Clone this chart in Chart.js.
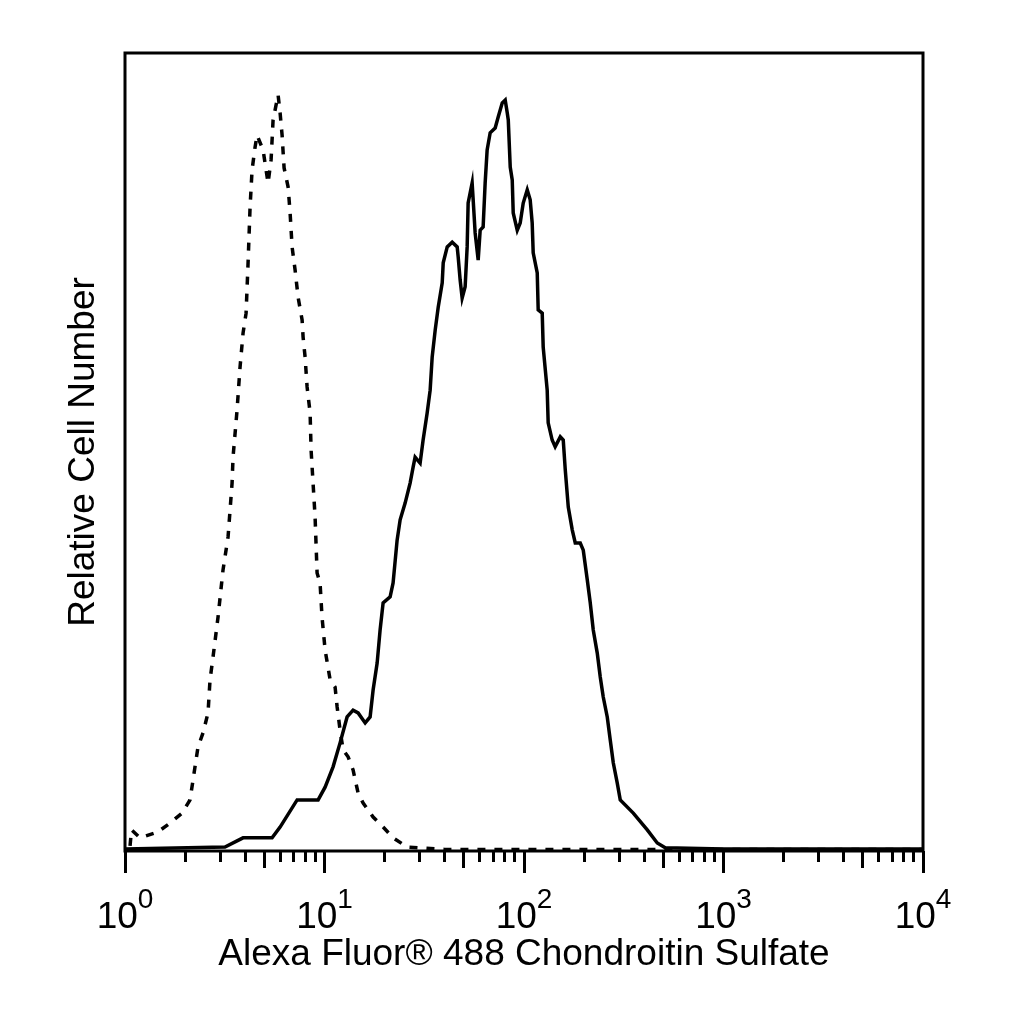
<!DOCTYPE html>
<html>
<head>
<meta charset="utf-8">
<script src="https://cdn.jsdelivr.net/npm/chart.js@4"></script>
<style>
  html, body { margin: 0; padding: 0; background: #fff; }
  #wrap { width: 1024px; height: 1024px; }
</style>
</head>
<body>
<div id="wrap"><canvas id="c" width="1024" height="1024"></canvas></div>
<script>
// ---- Data ----
// Isotype control (dashed) : fluorescence intensity vs relative cell number
const controlX = [1.06, 1.078, 1.19, 1.464, 1.682, 1.932, 2.118, 2.193, 2.323, 2.461, 2.607, 2.668, 2.762, 2.926, 3.099, 3.285, 3.441, 3.48, 3.645, 3.773, 3.906, 4.045, 4.139, 4.236, 4.335, 4.487, 4.592, 4.921, 5.213, 5.398, 5.524, 5.853, 5.99, 6.13, 6.201, 6.273, 6.571, 6.723, 6.88, 7.122, 7.373, 7.722, 7.811, 7.993, 8.18, 8.47, 8.566, 8.97, 9.18, 9.5, 9.72, 10.07, 10.67, 11.3, 11.57, 11.97, 12.4, 13.13, 13.91, 14.74, 15.62, 17.53, 19.67, 22.07, 25.96, 40, 100, 300, 1000, 3000, 10000];
const controlY = [1.3, 5.3, 3.3, 4.8, 7.0, 9.5, 12.8, 17.8, 26.1, 29.6, 34.6, 42.9, 48.6, 58.6, 70.4, 78.7, 92.2, 98.7, 110.5, 121.3, 129.8, 134.8, 147.4, 161.4, 170.7, 176.4, 179.4, 175.7, 167.4, 173.2, 183.2, 189.5, 185.0, 179.4, 175.2, 171.2, 166.4, 159.9, 151.4, 145.6, 138.8, 133.1, 128.8, 123.8, 116.3, 109.8, 100.5, 83.7, 69.7, 67.2, 58.6, 50.4, 42.9, 41.1, 36.1, 30.3, 25.3, 23.6, 20.3, 14.5, 12.0, 8.5, 6.0, 3.3, 1.0, 0.4, 0.4, 0.4, 0.4, 0.4, 0.4];

// Alexa Fluor 488 Chondroitin Sulfate stained (solid)
const stainedX = [1, 3.17, 3.906, 5.461, 5.99, 7.29, 9.29, 10.07, 11.04, 11.97, 12.98, 13.91, 14.74, 15.99, 16.93, 17.53, 18.36, 19.0, 19.67, 21.33, 22.07, 23.12, 23.94, 25.36, 26.86, 27.81, 28.46, 30.15, 31.21, 32.7, 33.85, 34.65, 35.89, 37.15, 38.91, 39.36, 41.22, 43.66, 46.24, 46.78, 47.86, 48.98, 50.7, 51.89, 52.48, 54.96, 55.62, 56.9, 58.93, 60.3, 62.4, 63.86, 65.35, 67.67, 71.7, 74.3, 77.8, 80.5, 82.4, 83.4, 85.3, 87.3, 88.3, 92.5, 95.7, 99.1, 103.8, 107.4, 109.9, 111.2, 116.5, 117.8, 123.4, 124.8, 130.7, 132.2, 138.4, 143.3, 152.0, 157.3, 161.0, 166.7, 174.5, 180.7, 191.4, 198.2, 207.6, 214.8, 222.4, 232.9, 241.1, 249.6, 261.4, 270.6, 280.2, 293.4, 303.7, 353.0, 414.9, 465.6, 510.5, 1000, 3000, 10000];
const stainedY = [0.5, 1.0, 3.3, 3.3, 6.0, 12.8, 12.8, 16.0, 21.1, 27.1, 33.6, 35.3, 34.6, 32.1, 33.6, 40.4, 47.1, 55.4, 62.2, 63.7, 67.2, 77.9, 83.0, 87.2, 92.2, 96.2, 98.7, 97.2, 103.0, 109.8, 115.5, 123.8, 130.6, 136.3, 142.4, 147.4, 151.4, 152.6, 151.4, 148.9, 143.1, 138.6, 141.4, 151.4, 162.4, 167.4, 163.2, 154.9, 148.1, 155.6, 156.4, 167.4, 175.7, 180.0, 181.2, 184.0, 187.5, 188.2, 185.0, 183.2, 171.4, 168.2, 159.9, 155.6, 157.4, 162.4, 165.7, 163.2, 157.4, 149.9, 144.9, 135.6, 134.8, 126.3, 115.5, 107.3, 103.0, 101.3, 103.8, 103.0, 95.5, 86.2, 80.5, 77.2, 77.2, 75.4, 67.9, 62.2, 55.4, 49.6, 43.6, 38.6, 33.6, 27.8, 22.1, 17.0, 12.8, 9.5, 5.3, 2.0, 0.8, 0.5, 0.5, 0.5];

// Axis ticks
const majorTicks = [1, 10, 100, 1000, 10000];
const majorTickExponents = ['0', '1', '2', '3', '4'];
const midTicks = [5, 50, 500, 5000];
const minorTicks = [2, 3, 4, 6, 7, 8, 9, 20, 30, 40, 60, 70, 80, 90, 200, 300, 400, 600, 700, 800, 900, 2000, 3000, 4000, 6000, 7000, 8000, 9000];

const xTitle = 'Alexa Fluor® 488 Chondroitin Sulfate';
const yTitle = 'Relative Cell Number';

// ---- Chart ----
const FONT = "'Liberation Sans', Arial, sans-serif";

const toPoints = (xs, ys) => xs.map((x, i) => ({ x: x, y: ys[i] }));

const framePlugin = {
  id: 'frame',
  afterDraw(chart) {
    const { ctx, chartArea: a } = chart;
    ctx.save();
    ctx.strokeStyle = '#000';
    ctx.lineWidth = 3;
    ctx.strokeRect(a.left, a.top, a.right - a.left, a.bottom - a.top);
    ctx.restore();
  }
};

const powerLabelPlugin = {
  id: 'powerLabels',
  afterDraw(chart) {
    const { ctx } = chart;
    const scale = chart.scales.x;
    const base = chart.chartArea.bottom;
    ctx.save();
    ctx.fillStyle = '#000';
    ctx.textBaseline = 'alphabetic';
    ctx.textAlign = 'left';
    majorTicks.forEach((v, i) => {
      const px = scale.getPixelForValue(v);
      ctx.font = '37px ' + FONT;
      const wMain = ctx.measureText('10').width;
      ctx.font = '28px ' + FONT;
      const wExp = ctx.measureText(majorTickExponents[i]).width;
      const start = px - (wMain + wExp) / 2;
      ctx.font = '37px ' + FONT;
      ctx.fillText('10', start, base + 77);
      ctx.font = '28px ' + FONT;
      ctx.fillText(majorTickExponents[i], start + wMain, base + 57);
    });
    ctx.restore();
  }
};

function tickAxis(values, len, weight, isMain) {
  const cfg = {
    type: 'logarithmic',
    position: 'bottom',
    min: 1,
    max: 10000,
    weight: weight,
    afterBuildTicks: (s) => { s.ticks = values.map(v => ({ value: v })); },
    ticks: { display: false, autoSkip: false },
    grid: {
      display: true,
      drawOnChartArea: false,
      drawTicks: true,
      tickLength: len,
      tickWidth: 3,
      tickColor: '#000',
      color: '#000',
      lineWidth: 3
    },
    border: { display: false }
  };
  if (isMain) {
    cfg.afterFit = (s) => { s.height = 173; };
    cfg.title = {
      display: true,
      text: xTitle,
      color: '#000',
      font: { family: FONT, size: 37 },
      padding: { top: 0, bottom: 47 }
    };
  } else {
    cfg.afterFit = (s) => { s.height = 0; };
  }
  return cfg;
}

new Chart(document.getElementById('c'), {
  type: 'line',
  data: {
    datasets: [
      {
        label: 'Isotype control',
        data: toPoints(controlX, controlY),
        borderColor: '#000',
        borderWidth: 3.5,
        borderDash: [8, 9],
        pointRadius: 0,
        tension: 0,
        fill: false
      },
      {
        label: 'Chondroitin Sulfate',
        data: toPoints(stainedX, stainedY),
        borderColor: '#000',
        borderWidth: 3.5,
        pointRadius: 0,
        tension: 0,
        fill: false
      }
    ]
  },
  options: {
    responsive: false,
    animation: false,
    devicePixelRatio: 1,
    layout: { padding: { top: 53, right: 101, bottom: 0, left: 0 } },
    plugins: {
      legend: { display: false },
      tooltip: { enabled: false }
    },
    scales: {
      xMinor: tickAxis(minorTicks, 11, 0, false),
      xMid: tickAxis(midTicks, 17, 0, false),
      x: tickAxis(majorTicks, 22, 1, true),
      y: {
        type: 'linear',
        position: 'left',
        min: 0,
        max: 200,
        afterFit: (s) => { s.width = 125; },
        ticks: { display: false },
        grid: { display: false },
        border: { display: false },
        title: {
          display: true,
          text: yTitle,
          color: '#000',
          font: { family: FONT, size: 37 },
          padding: { top: 62, bottom: 0 }
        }
      }
    }
  },
  plugins: [framePlugin, powerLabelPlugin]
});
</script>
</body>
</html>
